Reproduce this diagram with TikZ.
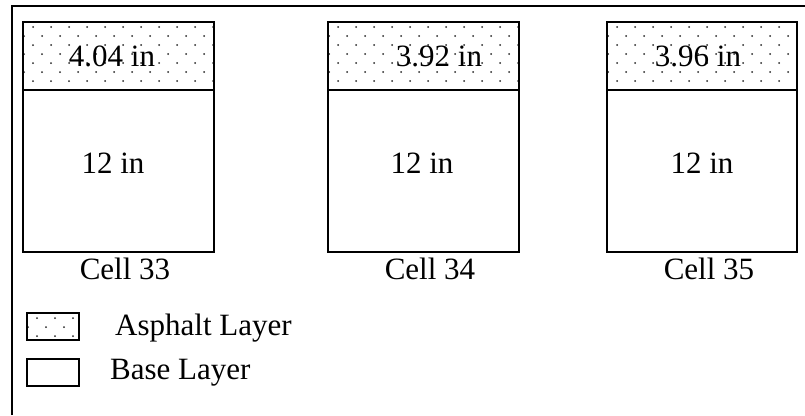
\documentclass[tikz,border=0pt]{standalone}
\usepackage{fontspec}
\setmainfont{Liberation Serif}
\tikzset{
  layer/.style={draw=black,line width=2pt},
  lbl/.style={font=\fontsize{31}{36}\selectfont,inner sep=0pt},
}
% dots of the asphalt hatch, clipped to a box
\newcommand{\asphaltdots}[4]{%
\begin{scope}
\clip(#1,#2)rectangle(#3,#4);
\foreach \j in {0,...,14}{
  \pgfmathsetmacro{\off}{mod(\j,2)==0 ? 9 : 0}
  \foreach \i in {0,...,45}{
    \fill[black!85](#1+\off+1+18*\i,#2+5+9*\j)circle(1pt);
  }
}
\end{scope}}
\begin{document}
\begin{tikzpicture}[x=1pt,y=-1pt]
\useasboundingbox(0,0)rectangle(805,415);
\fill[white](0,0)rectangle(805,415);
\draw[line width=2pt](11.5,415)--(11.5,6)--(805,6);
% cells
\asphaltdots{23}{22}{214}{90}
\asphaltdots{328}{22}{519}{90}
\asphaltdots{607}{22}{797}{90}
\draw[layer](23,22)rectangle(214,90);
\draw[layer](23,90)rectangle(214,252);
\draw[layer](328,22)rectangle(519,90);
\draw[layer](328,90)rectangle(519,252);
\draw[layer](607,22)rectangle(797,90);
\draw[layer](607,90)rectangle(797,252);
\node[lbl](a33) at (112,56){4.04 in};
\node[lbl](a34) at (439,56){3.92 in};
\node[lbl](a35) at (698,56){3.96 in};
\node[lbl](b33) at (113,163){12 in};
\node[lbl](b34) at (422,163){12 in};
\node[lbl](b35) at (702,163){12 in};
\node[lbl](c33) at (125,269){Cell 33};
\node[lbl](c34) at (430,269){Cell 34};
\node[lbl](c35) at (709,269){Cell 35};
% legend
\asphaltdots{27}{313}{79}{340}
\draw[layer](27,313)rectangle(79,340);
\draw[layer](27,359)rectangle(79,386);
\node[lbl,anchor=west](asph) at (115,328){Asphalt Layer};
\node[lbl,anchor=west](base) at (110,373){Base Layer};
\end{tikzpicture}
\end{document}
